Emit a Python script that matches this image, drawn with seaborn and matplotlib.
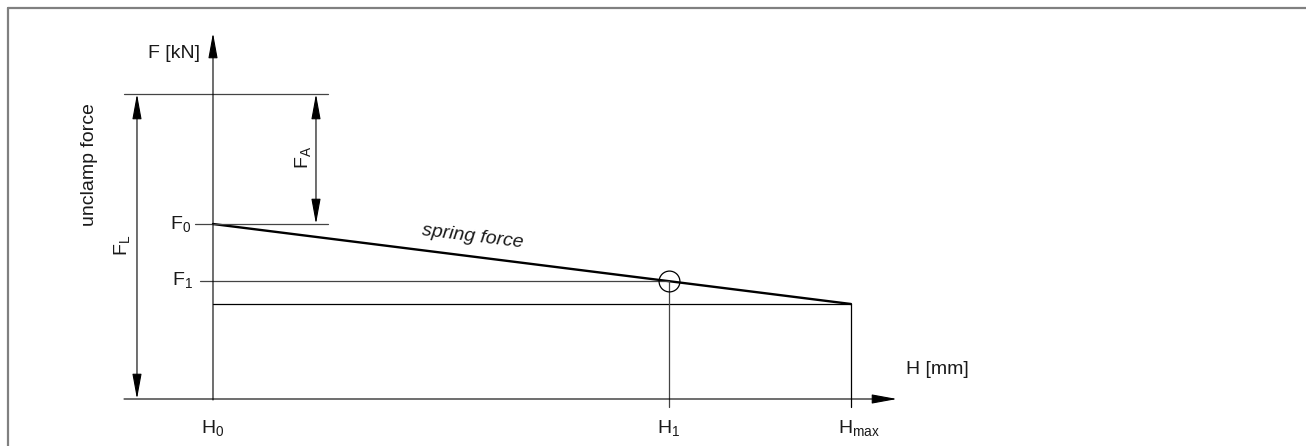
import matplotlib
matplotlib.use('Agg')
import matplotlib.pyplot as plt
import seaborn as sns
from matplotlib.lines import Line2D

sns.set_style('white')
plt.rcParams['font.family'] = ['Liberation Sans', 'DejaVu Sans']
plt.rcParams['mathtext.fontset'] = 'custom'
plt.rcParams['mathtext.rm'] = 'Liberation Sans'
plt.rcParams['mathtext.it'] = 'Liberation Sans:italic'

# stroke H [mm] and force F [kN] (schematic values)
h_labels = ['H$_\\mathrm{0}$', 'H$_\\mathrm{1}$', 'H$_\\mathrm{max}$']
h_values = [0, 10, 14]
spring_h = [0, 14]
spring_f = [3.5, 1.9]
f_unclamp = 6.1
f0 = 3.5
f1 = 2.36
f_min = 1.9

ink = '#1a1a1a'
fs = 14

fig = plt.figure(figsize=(13.06, 4.46), dpi=100)
ax = fig.add_axes([0, 0, 1, 1])
ax.set_xlim(-4.674, 23.985)
ax.set_ylim(-0.94, 7.98)
ax.axis('off')

# frame (top + left only)
fig.add_artist(Line2D([8/1306, 1], [1 - 8/446, 1 - 8/446], color='#808080', lw=1.6))
fig.add_artist(Line2D([8/1306, 8/1306], [0, 1 - 8/446], color='#808080', lw=1.6))

arrow = dict(arrowstyle='-|>,head_length=1.2,head_width=0.22', color='black', lw=0.8,
             mutation_scale=13, shrinkA=0, shrinkB=0)
darrow = dict(arrowstyle='<|-|>,head_length=1.2,head_width=0.22', color='black', lw=0.8,
              mutation_scale=13, shrinkA=0, shrinkB=0)

# axes
ax.annotate('', xy=(0, 7.32), xytext=(0, -0.02), arrowprops=arrow)
ax.annotate('', xy=(15.01, 0), xytext=(-1.953, 0), arrowprops=arrow)

# spring line
sns.lineplot(x=spring_h, y=spring_f, ax=ax, color='black', lw=1.7)

# helper lines
ax.plot([-1.953, 2.524], [f_unclamp, f_unclamp], color='#444444', lw=0.9)
ax.plot([-0.395, 2.524], [f0, f0], color='#444444', lw=0.9)
ax.plot([-0.285, h_values[1]], [f1, f1], color='#444444', lw=0.9)
ax.plot([0, h_values[2]], [f_min, f_min], color='black', lw=0.9)
ax.plot([h_values[1], h_values[1]], [-0.16, f1], color='#444444', lw=0.9)
ax.plot([h_values[2], h_values[2]], [-0.16, f_min], color='black', lw=0.9)
ax.plot([h_values[1]], [f1], marker='o', ms=15, mfc='none', mec='black', mew=0.9)

# dimension arrows
ax.annotate('', xy=(-1.668, 0), xytext=(-1.668, f_unclamp), arrowprops=darrow)
ax.annotate('', xy=(2.26, f0), xytext=(2.26, f_unclamp), arrowprops=darrow)

# labels
ax.text(-0.856, 6.92, 'F [kN]', fontsize=fs, color=ink, ha='center', va='center')
ax.text(15.89, 0.6, 'H [mm]', fontsize=fs, color=ink, ha='center', va='center')
ax.text(-2.70, 4.68, 'unclamp force', fontsize=fs, color=ink, ha='center', va='center', rotation=90)
ax.text(-1.997, 3.08, 'F$_\\mathrm{L}$', fontsize=fs, color=ink, ha='center', va='center', rotation=90)
ax.text(1.975, 4.84, 'F$_\\mathrm{A}$', fontsize=fs, color=ink, ha='center', va='center', rotation=90)
ax.text(-0.48, f0, 'F$_\\mathrm{0}$', fontsize=fs, color=ink, ha='right', va='center')
ax.text(-0.43, f1 + 0.03, 'F$_\\mathrm{1}$', fontsize=fs, color=ink, ha='right', va='center')
ax.text(5.705, 3.24, 'spring force', fontsize=fs, color=ink, ha='center', va='center',
        rotation=-7, style='italic')
for h, lab in zip(h_values, h_labels):
    if lab.endswith('max}$'):
        ax.text(h - 0.285, -0.58, lab, fontsize=fs, color=ink, ha='left', va='center')
    else:
        ax.text(h, -0.58, lab, fontsize=fs, color=ink, ha='center', va='center')

fig.savefig('out.png', dpi=100)
